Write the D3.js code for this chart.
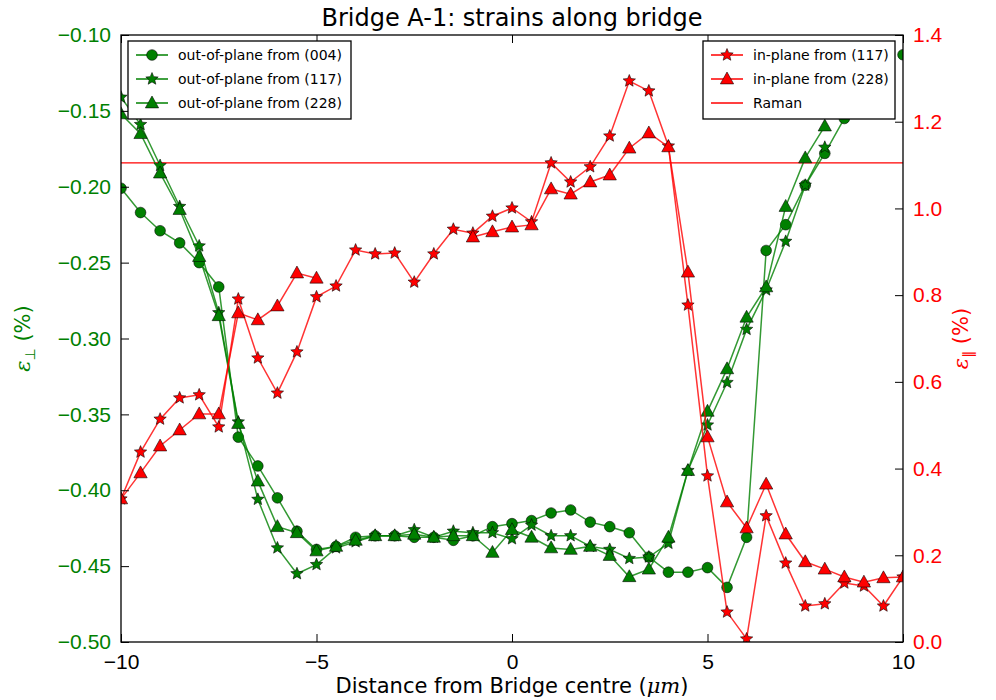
<!DOCTYPE html>
<html>
<head>
<meta charset="utf-8">
<script src="https://cdn.jsdelivr.net/npm/d3@7"></script>
<style>
body { margin: 0; background: #fff; }
svg { font-family: "DejaVu Sans", sans-serif; }
</style>
</head>
<body>
<div id="chart"></div>
<script>
// positions along the bridge, step 0.5 um
var xs = [-10,-9.5,-9,-8.5,-8,-7.5,-7,-6.5,-6,-5.5,-5,-4.5,-4,-3.5,-3,-2.5,-2,-1.5,-1,-0.5,0,0.5,1,1.5,2,2.5,3,3.5,4,4.5,5,5.5,6,6.5,7,7.5,8,8.5,9,9.5,10];

// out-of-plane strains (left axis), null = no point
var oop004 = [-0.201,-0.217,-0.229,-0.237,-0.250,-0.266,-0.365,-0.384,-0.405,-0.427,-0.439,-0.437,-0.431,-0.430,-0.430,-0.431,-0.431,-0.433,-0.430,-0.424,-0.422,-0.420,-0.415,-0.413,-0.421,-0.424,-0.428,-0.444,-0.454,-0.454,-0.451,-0.464,-0.431,-0.242,-0.225,-0.199,-0.178,-0.155,null,null,-0.113];
var oop117 = [-0.141,-0.159,-0.186,-0.213,-0.239,-0.283,-0.355,-0.406,-0.438,-0.455,-0.449,-0.438,-0.434,-0.430,-0.430,-0.426,-0.431,-0.427,-0.428,-0.428,-0.432,-0.423,-0.430,-0.430,-0.437,-0.439,-0.445,-0.444,-0.435,-0.387,-0.357,-0.329,-0.294,-0.268,-0.236,-0.199,-0.174,null,null,null,null];
var oop228 = [-0.152,-0.165,-0.191,-0.215,-0.246,-0.285,-0.356,-0.394,-0.424,-0.428,-0.440,-0.437,-0.433,-0.430,-0.430,-0.429,-0.431,-0.430,-0.430,-0.441,-0.426,-0.431,-0.438,-0.439,-0.437,-0.443,-0.457,-0.452,-0.431,-0.387,-0.348,-0.320,-0.286,-0.266,-0.213,-0.181,-0.160,null,null,null,null];

// in-plane strains (right axis)
var ip117 = [0.33,0.438,0.514,0.563,0.570,0.496,0.791,0.655,0.574,0.669,0.796,0.821,0.904,0.895,0.897,0.830,0.895,0.952,0.943,0.982,1.001,0.969,1.105,1.061,1.096,1.167,1.294,1.271,1.144,0.777,0.383,0.069,0.007,0.291,0.182,0.083,0.088,0.136,0.129,0.083,0.150];
var ip228 = [0.33,0.390,0.452,0.489,0.526,0.526,0.759,0.743,0.775,0.851,0.839,null,null,null,null,null,null,null,0.934,0.946,0.957,0.962,1.045,1.033,1.061,1.077,1.139,1.174,1.142,0.853,0.473,0.323,0.263,0.364,0.249,0.185,0.168,0.150,0.138,0.148,0.150];
var raman = 1.105;

var xTicks = [-10,-5,0,5,10];
var yLeftTicks = [-0.10,-0.15,-0.20,-0.25,-0.30,-0.35,-0.40,-0.45,-0.50];
var yRightTicks = [0.0,0.2,0.4,0.6,0.8,1.0,1.2,1.4];

var W = 996, H = 700;
var margin = {top: 35, right: 93, bottom: 58, left: 121};
var width = W - margin.left - margin.right,
    height = H - margin.top - margin.bottom;
var green = "#008000", red = "#ff0000";

var svg = d3.select("#chart").append("svg")
    .attr("width", W)
    .attr("height", H);
var g = svg.append("g")
    .attr("transform", "translate(" + margin.left + "," + margin.top + ")");

var x = d3.scaleLinear().domain([-10, 10]).range([0, width]);
var yL = d3.scaleLinear().domain([-0.50, -0.10]).range([height, 0]);
var yR = d3.scaleLinear().domain([0, 1.4]).range([height, 0]);

g.append("defs").append("clipPath").attr("id", "clip")
  .append("rect").attr("width", width).attr("height", height);

var plot = g.append("g").attr("clip-path", "url(#clip)");

// raman line
plot.append("line")
    .attr("x1", 0).attr("x2", width)
    .attr("y1", yR(raman)).attr("y2", yR(raman))
    .attr("stroke", red).attr("stroke-width", 1.3);

// markers
function star(r) {
  var pts = [];
  for (var i = 0; i < 10; i++) {
    var rr = i % 2 ? r * 0.45 : r;
    var a = Math.PI / 5 * i - Math.PI / 2;
    pts.push([rr * Math.cos(a), rr * Math.sin(a)]);
  }
  return "M" + pts.join("L") + "Z";
}
function tri(r) {
  return "M0," + (-r) + "L" + (r * 0.95) + "," + (r * 0.7) + "L" + (-r * 0.95) + "," + (r * 0.7) + "Z";
}
var shapes = {
  circle: function() { return d3.symbol(d3.symbolCircle, 90)(); },
  star: function() { return star(6.5); },
  tri: function() { return tri(7); }
};

var series = [
  {vals: oop004, y: yL, color: green, shape: "circle"},
  {vals: oop117, y: yL, color: green, shape: "star"},
  {vals: oop228, y: yL, color: green, shape: "tri"},
  {vals: ip117, y: yR, color: red, shape: "star"},
  {vals: ip228, y: yR, color: red, shape: "tri"}
];

series.forEach(function(s) {
  var pts = xs.map(function(d, i) { return {x: d, v: s.vals[i]}; });
  var line = d3.line()
      .defined(function(d) { return d.v !== null; })
      .x(function(d) { return x(d.x); })
      .y(function(d) { return s.y(d.v); });
  plot.append("path")
      .datum(pts)
      .attr("fill", "none")
      .attr("stroke", s.color)
      .attr("stroke-opacity", 0.8)
      .attr("stroke-width", 1.5)
      .attr("d", line);
  plot.selectAll(null)
      .data(pts.filter(function(d) { return d.v !== null; }))
      .enter().append("path")
      .attr("transform", function(d) { return "translate(" + x(d.x) + "," + s.y(d.v) + ")"; })
      .attr("d", shapes[s.shape]())
      .attr("fill", s.color)
      .attr("stroke", "#000")
      .attr("stroke-opacity", 0.7)
      .attr("stroke-width", 0.8);
});

// axes, ticks pointing in like classic matplotlib
var fmt2 = d3.format(".2f"), fmt1 = d3.format(".1f");
function minus(s) { return s.replace("-", "\u2212"); }

var axB = g.append("g").attr("transform", "translate(0," + height + ")")
    .call(d3.axisBottom(x).tickValues(xTicks).tickSizeInner(-8).tickSizeOuter(0).tickPadding(12)
      .tickFormat(function(d) { return minus(String(d)); }));
var axT = g.append("g")
    .call(d3.axisTop(x).tickValues(xTicks).tickSizeInner(-8).tickSizeOuter(0).tickFormat(""));
var axL = g.append("g")
    .call(d3.axisLeft(yL).tickValues(yLeftTicks).tickSizeInner(-8).tickSizeOuter(0).tickPadding(10)
      .tickFormat(function(d) { return minus(fmt2(d)); }));
var axR = g.append("g").attr("transform", "translate(" + width + ",0)")
    .call(d3.axisRight(yR).tickValues(yRightTicks).tickSizeInner(-8).tickSizeOuter(0).tickPadding(10)
      .tickFormat(fmt1));

[axB, axT, axL, axR].forEach(function(a) {
  a.select(".domain").remove();
  a.selectAll("line").attr("stroke", "#000").attr("stroke-width", 1);
  a.selectAll("text").style("font-size", "21px");
});
axB.selectAll("text").attr("fill", "#000");
axL.selectAll("text").attr("fill", green);
axR.selectAll("text").attr("fill", red);

g.append("rect")
    .attr("width", width).attr("height", height)
    .attr("fill", "none").attr("stroke", "#000").attr("stroke-width", 1.3);

// title and labels
svg.append("text")
    .attr("x", margin.left + width / 2).attr("y", 26)
    .attr("text-anchor", "middle")
    .style("font-size", "24px")
    .text("Bridge A-1: strains along bridge");

var xl = svg.append("text")
    .attr("x", margin.left + width / 2).attr("y", 693)
    .attr("text-anchor", "middle")
    .style("font-size", "21px")
    .text("Distance from Bridge centre (");
xl.append("tspan").style("font-family", "'DejaVu Serif', serif").style("font-style", "italic").text("\u03bcm");
xl.append("tspan").text(")");

var ylL = svg.append("text")
    .attr("transform", "translate(30," + (margin.top + height / 2) + ") rotate(-90)")
    .attr("text-anchor", "middle")
    .attr("fill", green)
    .style("font-size", "21px");
ylL.append("tspan").style("font-family", "'DejaVu Serif', serif").style("font-style", "italic").text("\u03b5");
ylL.append("tspan").attr("dy", 5).style("font-size", "14px").text("\u22a5");
ylL.append("tspan").attr("dy", -5).text(" (%)");

var ylR = svg.append("text")
    .attr("transform", "translate(968," + (margin.top + height / 2) + ") rotate(-90)")
    .attr("text-anchor", "middle")
    .attr("fill", red)
    .style("font-size", "21px");
ylR.append("tspan").style("font-family", "'DejaVu Serif', serif").style("font-style", "italic").text("\u03b5");
ylR.append("tspan").attr("dy", 5).style("font-size", "14px").text("\u2225");
ylR.append("tspan").attr("dy", -5).text(" (%)");

// legends
function legend(x0, y0, w, items) {
  var lg = g.append("g").attr("transform", "translate(" + x0 + "," + y0 + ")");
  lg.append("rect").attr("width", w).attr("height", items.length * 24 + 6)
    .attr("fill", "#fff").attr("stroke", "#000").attr("stroke-width", 1.3);
  items.forEach(function(it, i) {
    var cy = 14 + i * 24;
    lg.append("line").attr("x1", 8).attr("x2", 40).attr("y1", cy).attr("y2", cy)
      .attr("stroke", it.color).attr("stroke-width", 1.5);
    if (it.shape) {
      lg.append("path").attr("transform", "translate(24," + cy + ")")
        .attr("d", shapes[it.shape]())
        .attr("fill", it.color).attr("stroke", "#000").attr("stroke-opacity", 0.7).attr("stroke-width", 0.8);
    }
    lg.append("text").attr("x", 50).attr("y", cy + 5)
      .style("font-size", "14px").text(it.label);
  });
}
legend(7, 6, 223, [
  {label: "out-of-plane from (004)", color: green, shape: "circle"},
  {label: "out-of-plane from (117)", color: green, shape: "star"},
  {label: "out-of-plane from (228)", color: green, shape: "tri"}
]);
legend(582, 6, 192, [
  {label: "in-plane from (117)", color: red, shape: "star"},
  {label: "in-plane from (228)", color: red, shape: "tri"},
  {label: "Raman", color: red, shape: null}
]);
</script>
</body>
</html>
